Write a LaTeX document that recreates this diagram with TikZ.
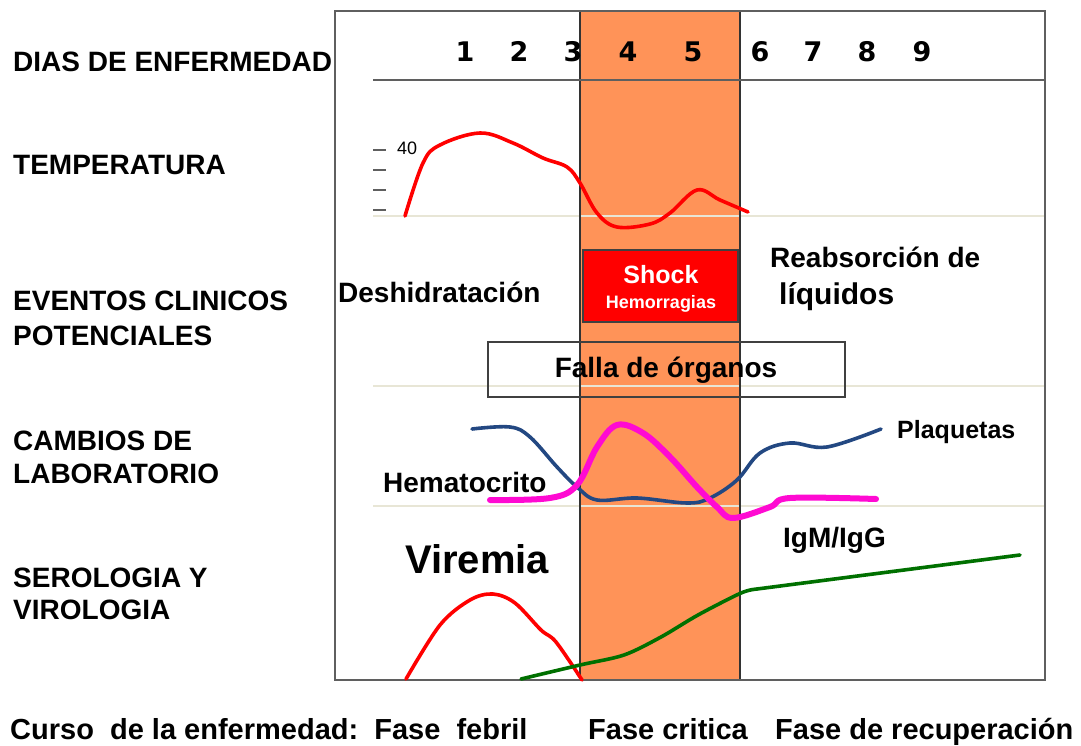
\documentclass[tikz,border=0pt]{standalone}
\usepackage{fontspec}
\setmainfont{Liberation Sans}
\newfontfamily\digitfont{DejaVu Sans}
\definecolor{bandorange}{RGB}{255,147,88}
\definecolor{framegray}{RGB}{95,95,95}
\definecolor{faintline}{RGB}{232,230,214}
\definecolor{navy}{RGB}{35,72,130}
\definecolor{hotpink}{RGB}{255,10,210}
\definecolor{darkgreen}{RGB}{0,112,0}
\definecolor{shockred}{RGB}{255,0,0}
\tikzset{
  rowlabel/.style={anchor=base west, inner sep=0pt, font=\fontsize{28}{30}\selectfont\bfseries},
  daynum/.style={anchor=base, inner sep=0pt, font=\digitfont\fontsize{27}{30}\selectfont\bfseries},
  txtlabel/.style={anchor=base west, inner sep=0pt, font=\fontsize{28}{30}\selectfont\bfseries},
  phase/.style={anchor=base west, inner sep=0pt, font=\fontsize{29}{31}\selectfont\bfseries},
  curve/.style={line width=3.6pt, line cap=round, line join=round},
  faint/.style={faintline, line width=1.2pt},
  tick/.style={framegray, line width=1.5pt}
}
\begin{document}
\begin{tikzpicture}[x=1pt,y=-1pt]
\useasboundingbox (0,0) rectangle (1081,746);
% orange band
\fill[bandorange] (580,11) rectangle (740,680);
% faint guide lines
\draw[faint] (373,216) -- (1045,216);
\draw[faint] (373,386) -- (1045,386);
\draw[faint] (373,506) -- (1045,506);
% band edges
\draw[black!80, line width=1.5pt] (580,11) -- (580,680);
\draw[black!80, line width=1.5pt] (740,11) -- (740,680);
% frame
\draw[framegray, line width=2pt] (335,11) rectangle (1045,680);
\draw[framegray, line width=2pt] (373,80) -- (1045,80);
% day numbers
\node[daynum] (d1) at (465,62) {1};
\node[daynum] (d2) at (519,62) {2};
\node[daynum] (d3) at (573,62) {3};
\node[daynum] (d4) at (628,62) {4};
\node[daynum] (d5) at (693,62) {5};
\node[daynum] (d6) at (760,62) {6};
\node[daynum] (d7) at (813,62) {7};
\node[daynum] (d8) at (867,62) {8};
\node[daynum] (d9) at (922,62) {9};
% row labels
\node[rowlabel] (l1) at (13,72) {DIAS DE ENFERMEDAD};
\node[rowlabel] (l2) at (13,175) {TEMPERATURA};
\node[rowlabel] (l3) at (13,310) {EVENTOS CLINICOS};
\node[rowlabel] (l3b) at (13,345) {POTENCIALES};
\node[rowlabel] (l4) at (13,450) {CAMBIOS DE};
\node[rowlabel] (l4b) at (13,483) {LABORATORIO};
\node[rowlabel] (l5) at (13,587) {SEROLOGIA Y};
\node[rowlabel] (l5b) at (13,619) {VIROLOGIA};
% temperature ticks
\draw[tick] (373,150) -- (386,150);
\draw[tick] (373,170) -- (386,170);
\draw[tick] (373,190) -- (386,190);
\draw[tick] (373,210) -- (386,210);
\node[anchor=base west, inner sep=0pt, font=\fontsize{18}{19}\selectfont] (t40) at (397,155) {40};
% temperature curve
\draw[curve, red] plot[smooth, tension=0.6] coordinates {(405,216) (423,163) (440,145) (480,133) (513,143) (543,158) (567,167) (580,183) (597,213) (617,227) (650,224) (670,213) (697,190) (720,200) (748,212)};
% clinical events
\node[draw=black!75, line width=1.5pt, fill=shockred, minimum width=155pt, minimum height=72pt, inner sep=0pt] (shock) at (660.5,286) {};
\node[anchor=base, inner sep=0pt, text=white, font=\fontsize{25}{27}\selectfont\bfseries] (shockt) at (661,283) {Shock};
\node[anchor=base, inner sep=0pt, text=white, font=\fontsize{18}{20}\selectfont\bfseries] (hemo) at (661,308) {Hemorragias};
\node[draw=black!75, line width=1.5pt, minimum width=357pt, minimum height=55pt, inner sep=0pt] (falla) at (666.5,369.5) {};
\node[anchor=base, inner sep=0pt, font=\fontsize{28}{30}\selectfont\bfseries] (fallat) at (666,377) {Falla de órganos};
\node[txtlabel] (desh) at (338,302) {Deshidratación};
\node[txtlabel] (reab) at (770,267) {Reabsorción de};
\node[anchor=base west, inner sep=0pt, font=\fontsize{30}{32}\selectfont\bfseries] (liq) at (779,304) {líquidos};
% laboratory curves
\draw[curve, navy] plot[smooth, tension=0.6] coordinates {(472,429) (510,427) (530,437) (557,467) (577,487) (597,500) (637,498) (687,503) (710,498) (737,480) (760,453) (790,443) (827,447) (881,429)};
\draw[curve, hotpink, line width=6pt] plot[smooth, tension=0.6] coordinates {(490,500) (550,498) (577,485) (597,447) (617,425) (643,433) (670,457) (697,487) (717,507) (733,518) (770,507) (790,498) (876,499)};
\node[anchor=base west, inner sep=0pt, font=\fontsize{25}{27}\selectfont\bfseries] (plaq) at (897,438) {Plaquetas};
\node[txtlabel] (hema) at (383,492) {Hematocrito};
\node[txtlabel] (igm) at (783,547) {IgM/IgG};
% serology
\node[anchor=base west, inner sep=0pt, font=\fontsize{40}{42}\selectfont\bfseries] (vir) at (405,573) {Viremia};
\draw[curve, red] plot[smooth, tension=0.55] coordinates {(406,679) (440,625) (470,600) (493,594) (515,603) (541,630) (556,642) (582,680)};
\draw[curve, darkgreen] plot[smooth, tension=0.5] coordinates {(521,679) (580,665) (624,655) (661,637) (698,615) (741,593) (757,589)} -- (1020,555);
% phases
\node[phase] (curso) at (10,739) {Curso\ \ de la enfermedad:\ \ Fase\ \ febril};
\node[phase] (fcrit) at (588,739) {Fase critica};
\node[phase] (frec) at (775,739) {Fase de recuperación};
\end{tikzpicture}
\end{document}
